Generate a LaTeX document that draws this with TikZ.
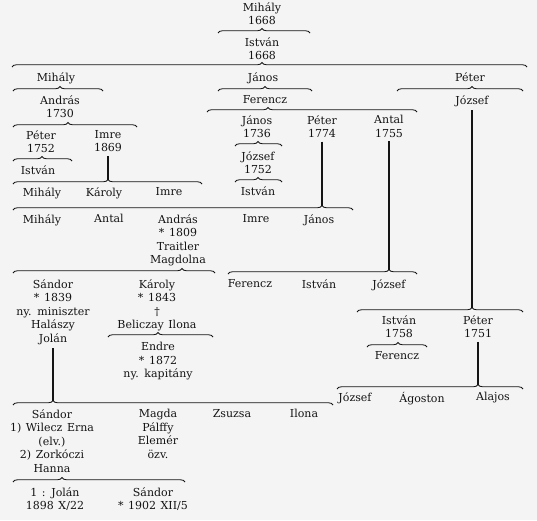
\documentclass[tikz,border=0pt]{standalone}
\usepackage{fontspec}
\setmainfont{DejaVu Serif}[WordSpace=1.3]
\usetikzlibrary{decorations.pathreplacing, calc}

\definecolor{papir}{HTML}{F4F4F4}
\definecolor{tinta}{HTML}{141414}

% 花括号：名字, 左端 x, 右端 x, 尖端 x, 主线 y
\newcommand{\kapocs}[5]{%
  \coordinate (#1-l) at (#2,#5+2);
  \coordinate (#1-r) at (#3,#5+2);
  \coordinate (#1-t) at (#4,#5-2);
  \pgfmathsetmacro{\kaspect}{(#4-#2)/(#3-#2)}
  \draw[kapocsVonal, decoration={brace, amplitude=4.5pt, aspect=\kaspect}] (#1-l) -- (#1-r);
}

\begin{document}
\begin{tikzpicture}[
    x=1pt, y=-1pt,
    nev/.style={anchor=north, inner sep=0pt, align=center, text=tinta, font=\fontsize{11}{13.5}\selectfont}, % 人名文字
    kapocsVonal/.style={decorate, line width=0.85pt, draw=tinta}, % 花括号线
    agVonal/.style={line width=1.5pt, draw=tinta, shorten <=4pt}, % 竖直连线
]
    \fill[papir] (0,0) rectangle (537,520);
    \useasboundingbox (0,0) rectangle (537,520);

    % 1. 顶部祖先
    \node[nev] (mihaly1) at (262,2) {Mihály\\1668};
    \kapocs{k1}{218}{310}{262}{31}
    \node[nev] (istvan1) at (262,37) {István\\1668};
    \kapocs{k2}{12}{527}{262}{65}

    % 2. 第三代
    \node[nev] (mihaly2) at (56,72) {Mihály};
    \node[nev] (janos2) at (263,72) {János};
    \node[nev] (peter2) at (470,72) {Péter};
    \kapocs{k3}{13}{103}{60}{89}
    \kapocs{k4}{218}{312}{265}{89}
    \kapocs{k5}{397}{523}{472}{89}

    \node[nev] (andras3) at (60,95) {András\\1730};
    \node[nev] (ferenc3) at (265,95) {Ferencz};
    \node[nev] (jozsef3) at (472,95) {József};
    \kapocs{k6}{207}{417}{268}{110}
    \kapocs{k7}{13}{137}{68}{125}

    % 3. 中间几代
    \node[nev] (janos4) at (257,115) {János\\1736};
    \node[nev] (peter4) at (322,115) {Péter\\1774};
    \node[nev] (antal4) at (389,115) {Antal\\1755};
    \node[nev] (peter4b) at (41,130) {Péter\\1752};
    \node[nev] (imre4) at (108,130) {Imre\\1869};
    \kapocs{k8}{235}{282}{258}{144}
    \node[nev] (jozsef5) at (258,151) {József\\1752};
    \kapocs{k9}{13}{72}{42}{159}
    \node[nev] (istvan5) at (38,165) {István};
    \kapocs{k10}{235}{282}{258}{180}
    \node[nev] (istvan6) at (258,186) {István};
    \kapocs{k11}{13}{202}{108}{182}
    \draw[agVonal] (imre4.south) -- (imre4.south |- k11-t);

    \node[nev] (mihaly6) at (42,187) {Mihály};
    \node[nev] (karoly6) at (104,187) {Károly};
    \node[nev] (imre6) at (169,187) {Imre};
    \kapocs{k12}{13}{353}{322}{208}
    \draw[agVonal] (peter4.south) -- (peter4.south |- k12-t);

    \node[nev] (mihaly7) at (42,214) {Mihály};
    \node[nev] (antal7) at (109,214) {Antal};
    \node[nev] (andras7) at (178,214) {András\\* 1809\\Traitler\\Magdolna};
    \node[nev] (imre7) at (256,214) {Imre};
    \node[nev] (janos7) at (319,214) {János};
    \kapocs{k13}{13}{215}{182}{271}
    \kapocs{k14}{228}{417}{389}{272}
    \draw[agVonal] (antal4.south) -- (antal4.south |- k14-t);

    % 4. 下半部分
    \node[nev] (sandor8) at (53,279) {Sándor\\* 1839\\ny. miniszter\\Halászy\\Jolán};
    \node[nev] (karoly8) at (157,279) {Károly\\* 1843\\†\\Beliczay Ilona};
    \node[nev] (ferenc8) at (250,279) {Ferencz};
    \node[nev] (istvan8) at (319,279) {István};
    \node[nev] (jozsef8) at (389,279) {József};
    \kapocs{k15}{108}{213}{158}{335}
    \node[nev] (endre9) at (158,342) {Endre\\* 1872\\ny. kapitány};

    \kapocs{k16}{357}{523}{472}{310}
    \draw[agVonal] (jozsef3.south) -- (jozsef3.south |- k16-t);
    \node[nev] (istvan10) at (399,315) {István\\1758};
    \node[nev] (peter10) at (478,315) {Péter\\1751};
    \kapocs{k17}{367}{427}{398}{345}
    \node[nev] (ferenc11) at (397,351) {Ferencz};
    \kapocs{k18}{337}{523}{478}{387}
    \draw[agVonal] (peter10.south) -- (peter10.south |- k18-t);
    \node[nev] (jozsef12) at (355,392) {József};
    \node[nev] (agoston12) at (422,392) {Ágoston};
    \node[nev] (alajos12) at (493,392) {Alajos};

    \kapocs{k19}{13}{333}{53}{403}
    \draw[agVonal] (sandor8.south) -- (sandor8.south |- k19-t);
    \node[nev] (sandor13) at (52,409) {Sándor\\1) Wilecz Erna\\(elv.)\\2) Zorkóczi\\Hanna};
    \node[nev] (magda13) at (158,409) {Magda\\Pálffy\\Elemér\\özv.};
    \node[nev] (zsuzsa13) at (232,409) {Zsuzsa};
    \node[nev] (ilona13) at (304,409) {Ilona};
    \kapocs{k20}{13}{185}{62}{480}
    \node[nev] (jolan14) at (55,487) {1 : Jolán\\1898 X/22};
    \node[nev] (sandor14) at (153,487) {Sándor\\* 1902 XII/5};
\end{tikzpicture}
\end{document}
